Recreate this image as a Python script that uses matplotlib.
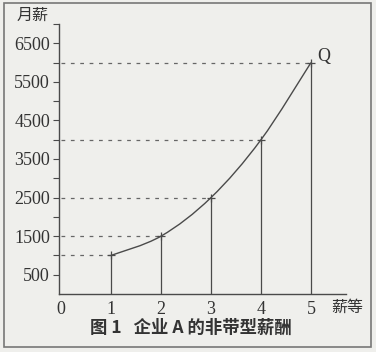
import matplotlib
matplotlib.use("Agg")
import matplotlib.pyplot as plt
from matplotlib.path import Path
from matplotlib.patches import PathPatch, Rectangle
import numpy as np

grades = [1, 2, 3, 4, 5]
salaries = [1000, 1500, 2500, 4000, 6000]
ytick_vals = [500, 1500, 2500, 3500, 4500, 5500, 6500]
xtick_vals = [0, 1, 2, 3, 4, 5]
ylabel_text = "月薪"
xlabel_text = "薪等"
title_text = "图 1   企业 A 的非带型薪酬"
point_label = "Q"

bg = "#efefec"
ink = "#4a4a4a"
serif = ["Liberation Serif", "DejaVu Serif"]
cjk = ["Noto Sans CJK SC", "DejaVu Sans"]

fig = plt.figure(figsize=(3.76, 3.52), dpi=100, facecolor=bg)
W, H = 376, 352
ax = fig.add_axes([59 / W, (H - 294) / H, (346 - 59) / W, (294 - 24) / H])
ax.set_facecolor(bg)
ax.set_xlim(-0.04, 5.7)
ax.set_ylim(0, 7000)
for s in ["top", "right"]:
    ax.spines[s].set_visible(False)
for s in ["left", "bottom"]:
    ax.spines[s].set_color(ink)
    ax.spines[s].set_linewidth(1.0)

ax.set_yticks(ytick_vals)
ax.set_yticklabels([str(v) for v in ytick_vals], fontfamily=serif, fontsize=13, color="#333")
ax.set_yticks([1000, 2000, 3000, 4000, 5000, 6000, 7000], minor=True)
ax.tick_params(axis="y", which="major", length=4, width=0.8, color=ink, pad=2.5)
ax.tick_params(axis="y", which="minor", length=4, width=0.8, color=ink)
ax.set_xticks(xtick_vals)
ax.set_xticklabels([str(v) for v in xtick_vals], fontfamily=serif, fontsize=13, color="#333")
ax.tick_params(axis="x", length=0, pad=5)

# dashed guides and verticals
for g, s in zip(grades, salaries):
    ax.plot([0, g], [s, s], linestyle=(0, (3, 4.5)), color="#666", linewidth=0.9)
    ax.plot([g, g], [0, s], color=ink, linewidth=0.9)
    ax.plot([g], [s], marker="+", color=ink, markersize=6, mew=0.9)

# smooth curve through points (Catmull-Rom as cubic Bezier)
pts = np.array(list(zip(grades, salaries)), dtype=float)
verts = [tuple(pts[0])]
codes = [Path.MOVETO]
n = len(pts)
for i in range(n - 1):
    p0 = pts[i - 1] if i > 0 else pts[i]
    p1 = pts[i]
    p2 = pts[i + 1]
    p3 = pts[i + 2] if i + 2 < n else pts[i + 1]
    c1 = p1 + (p2 - p0) / 6.0
    c2 = p2 - (p3 - p1) / 6.0
    verts += [tuple(c1), tuple(c2), tuple(p2)]
    codes += [Path.CURVE4] * 3
ax.add_patch(PathPatch(Path(verts, codes), facecolor="none", edgecolor=ink, linewidth=1.0))

ax.text(grades[-1] + 0.12, salaries[-1] + 150, point_label, fontfamily=serif, fontsize=13, color="#333",
        ha="left", va="center")

fig.text(33 / W, 1 - 15 / H, ylabel_text, fontfamily=cjk, fontsize=11.5, color="#333", ha="center", va="center")
fig.text(347 / W, 1 - 307 / H, xlabel_text, fontfamily=cjk, fontsize=11.5, color="#333", ha="center", va="center")
fig.text(191 / W, 1 - 328 / H, title_text, fontfamily=cjk, fontsize=12.5, fontweight="bold", color="#333",
         ha="center", va="center")

fig.add_artist(Rectangle((4 / W, 5 / H), (371 - 4) / W, (349 - 5) / H, transform=fig.transFigure,
                         facecolor="none", edgecolor="#777", linewidth=1.2))

fig.savefig("out.png", dpi=100, facecolor=bg)
